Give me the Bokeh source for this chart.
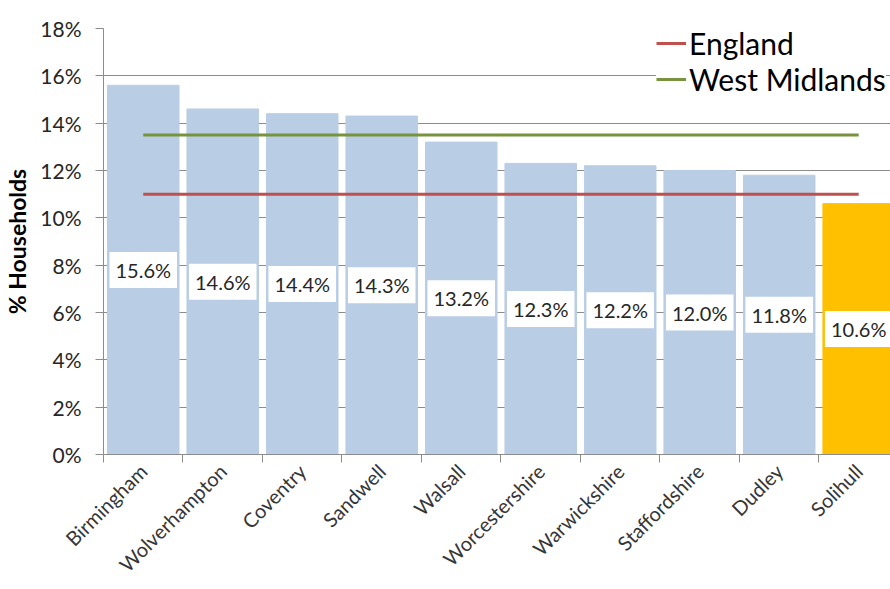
from math import pi
from bokeh.plotting import figure
from bokeh.models import (ColumnDataSource, FixedTicker, Legend,
                          LegendItem, Range1d)
from bokeh.core.properties import value
from bokeh.embed import file_html
from bokeh.resources import INLINE

# ---- data ----
areas = ["Birmingham", "Wolverhampton", "Coventry", "Sandwell", "Walsall",
         "Worcestershire", "Warwickshire", "Staffordshire", "Dudley", "Solihull"]
households_pct = [15.6, 14.6, 14.4, 14.3, 13.2, 12.3, 12.2, 12.0, 11.8, 10.6]
england_pct = 11.0
west_midlands_pct = 13.5
y_tick_values = [0, 2, 4, 6, 8, 10, 12, 14, 16, 18]
y_tick_labels = ["0%", "2%", "4%", "6%", "8%", "10%", "12%", "14%", "16%", "18%"]

FONT = "Lato"
TEXT = "#262626"
GRID = "#8c8c8c"
BAR = "#B9CDE5"
HIGHLIGHT = "#FFC000"

n = len(areas)
centers = [i + 0.5 for i in range(n)]
bounds = list(range(n + 1))
colors = [BAR] * (n - 1) + [HIGHLIGHT]

src = ColumnDataSource(dict(
    x=centers, top=households_pct, color=colors,
    mid=[v / 2 for v in households_pct],
    lab=[f"{v:.1f}%" for v in households_pct],
))

p = figure(width=890, height=589, output_backend="svg", toolbar_location=None,
           x_range=Range1d(0, 9.9), y_range=Range1d(0, 18),
           min_border_left=101, min_border_right=0, min_border_top=28,
           min_border_bottom=135)
p.outline_line_color = None
p.background_fill_color = "white"
p.border_fill_color = "white"

p.vbar(x="x", top="top", width=0.9, color="color", source=src)

eng = p.line(x=centers, y=[england_pct] * n, line_color="#C0504D", line_width=3)
wm = p.line(x=centers, y=[west_midlands_pct] * n, line_color="#77933C", line_width=3)

p.text(x="x", y="mid", text="lab", source=src, text_align="center",
       text_baseline="middle", text_font=value(FONT), text_font_size="20px",
       text_color=TEXT, background_fill_color="white", padding=6)

# y axis
p.yaxis.ticker = FixedTicker(ticks=y_tick_values, minor_ticks=[])
p.yaxis.major_label_overrides = {v: l for v, l in zip(y_tick_values, y_tick_labels)}
p.yaxis.axis_label = "% Households"
p.yaxis.axis_label_text_font = FONT
p.yaxis.axis_label_text_font_style = "bold"
p.yaxis.axis_label_text_font_size = "23px"
p.yaxis.axis_label_text_color = "black"
p.yaxis.axis_label_standoff = 6
p.yaxis.major_label_text_font = FONT
p.yaxis.major_label_text_font_size = "21px"
p.yaxis.major_label_text_color = TEXT
p.yaxis.axis_line_color = GRID
p.yaxis.major_tick_line_color = GRID
p.yaxis.major_tick_out = 8
p.yaxis.major_tick_in = 0
p.yaxis.major_label_standoff = 14

# x axis
p.xaxis.ticker = FixedTicker(ticks=centers, minor_ticks=bounds)
p.xaxis.major_label_overrides = {c: a for c, a in zip(centers, areas)}
p.xaxis.major_label_orientation = pi / 4
p.xaxis.major_label_text_font = FONT
p.xaxis.major_label_text_font_size = "20px"
p.xaxis.major_label_text_color = "#363636"
p.xaxis.major_tick_line_color = None
p.xaxis.major_tick_out = 0
p.xaxis.major_tick_in = 0
p.xaxis.minor_tick_line_color = GRID
p.xaxis.minor_tick_out = 8
p.xaxis.minor_tick_in = 0
p.xaxis.axis_line_color = GRID
p.xaxis.major_label_standoff = 5

p.xgrid.grid_line_color = None
p.ygrid.grid_line_color = GRID
p.ygrid.grid_line_width = 1

legend = Legend(items=[LegendItem(label="England", renderers=[eng]),
                       LegendItem(label="West Midlands", renderers=[wm])],
                location=(553, 357), background_fill_color="white",
                background_fill_alpha=1.0, border_line_color=None,
                label_text_font=FONT, label_text_font_size="30px",
                label_text_color="black", glyph_width=30, glyph_height=30,
                label_height=30, label_standoff=3, spacing=0, padding=4,
                margin=0)
p.add_layout(legend)

open("out.html", "w").write(file_html(p, INLINE))
